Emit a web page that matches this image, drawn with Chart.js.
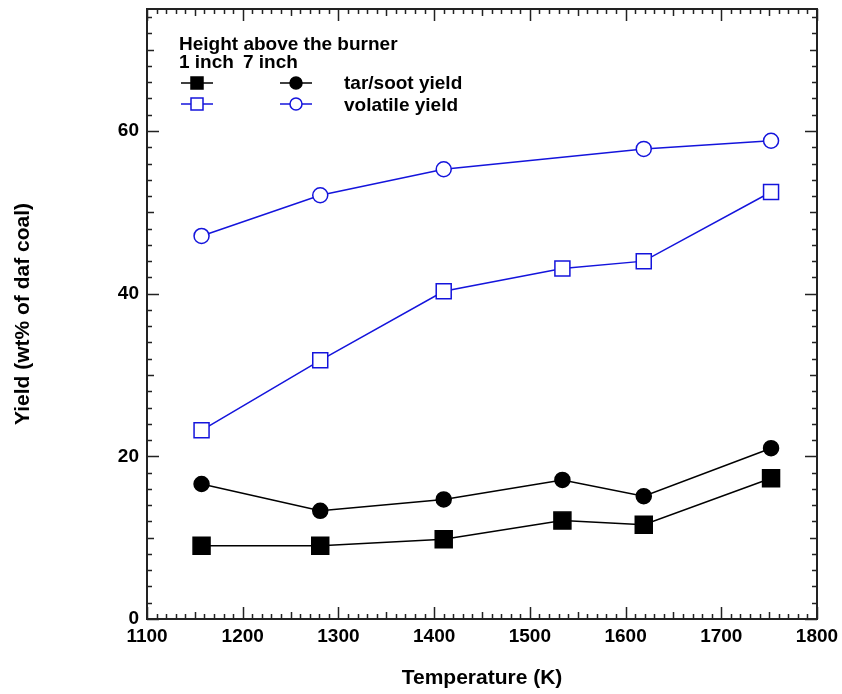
<!DOCTYPE html>
<html>
<head>
<meta charset="utf-8">
<title>Yield vs temperature</title>
<script src="https://cdn.jsdelivr.net/npm/chart.js@4.4.1/dist/chart.umd.min.js"></script>
<style>
    html, body { margin: 0; padding: 0; background: #fff; }
    #wrap { width: 842px; height: 694px; }
</style>
</head>
<body>
<div id="wrap"><canvas id="grafico"></canvas></div>
<script>
'use strict';

/* datos */
const temperaturas = [1157, 1281, 1410, 1534, 1619, 1752];
const tarSoot1in   = [9.0, 9.0, 9.8, 12.1, 11.6, 17.3];
const tarSoot7in   = [16.6, 13.3, 14.7, 17.1, 15.1, 21.0];
const volatil1in   = [23.2, 31.8, 40.3, 43.1, 44.0, 52.5];
const volatil7in   = [47.1, 52.1, 55.3, null, 57.8, 58.8];

const xTicks = [1100, 1200, 1300, 1400, 1500, 1600, 1700, 1800];
const yTicks = [0, 20, 40, 60];

const AZUL = '#1414dc';
const FUENTE = "'Liberation Sans', Arial, sans-serif";

const puntos = serie => temperaturas.map((t, i) => ({ x: t, y: serie[i] }));

/* ticks hacia dentro + marco + leyenda */
const marcoPlugin = {
    id: 'marco',
    afterDraw(chart) {
        const { ctx, chartArea: a, scales: { x, y } } = chart;
        ctx.save();
        ctx.strokeStyle = '#222';
        ctx.lineWidth = 1.5;

        ctx.beginPath();
        for (let v = x.min; v <= x.max + 0.01; v += 10) {
            const px = Math.round(x.getPixelForValue(v)) + 0.5;
            const len = v % 100 === 0 ? 12 : (v % 50 === 0 ? 7 : 5);
            ctx.moveTo(px, a.bottom); ctx.lineTo(px, a.bottom - len);
            ctx.moveTo(px, a.top);    ctx.lineTo(px, a.top + len);
        }
        for (let v = y.min; v <= y.max + 0.01; v += 2) {
            const py = Math.round(y.getPixelForValue(v)) + 0.5;
            const len = v % 20 === 0 ? 12 : (v % 10 === 0 ? 7 : 5);
            ctx.moveTo(a.left, py);  ctx.lineTo(a.left + len, py);
            ctx.moveTo(a.right, py); ctx.lineTo(a.right - len, py);
        }
        ctx.stroke();

        ctx.lineWidth = 2;
        ctx.strokeRect(a.left, a.top, a.right - a.left, a.bottom - a.top);

        // leyenda
        ctx.fillStyle = '#000';
        ctx.font = 'bold 19px ' + FUENTE;
        ctx.textBaseline = 'alphabetic';
        ctx.textAlign = 'left';
        ctx.fillText('Height above the burner', 179, 50);
        ctx.fillText('1 inch', 179, 68);
        ctx.fillText('7 inch', 243, 68);
        ctx.fillText('tar/soot yield', 344, 89);
        ctx.fillText('volatile yield', 344, 111);

        const simbolo = (cx, cy, forma, color, relleno) => {
            ctx.strokeStyle = color;
            ctx.lineWidth = 1.5;
            ctx.beginPath();
            ctx.moveTo(cx - 16, cy); ctx.lineTo(cx + 16, cy);
            ctx.stroke();
            ctx.beginPath();
            if (forma === 'rect') ctx.rect(cx - 6, cy - 6, 12, 12);
            else ctx.arc(cx, cy, 6, 0, Math.PI * 2);
            ctx.fillStyle = relleno;
            ctx.fill();
            ctx.stroke();
        };
        simbolo(197, 83, 'rect', '#000', '#000');
        simbolo(296, 83, 'circle', '#000', '#000');
        simbolo(197, 104, 'rect', AZUL, '#fff');
        simbolo(296, 104, 'circle', AZUL, '#fff');
        ctx.restore();
    }
};

function serie(label, datos, forma, color, relleno, radio) {
    return {
        label,
        data: puntos(datos),
        borderColor: color,
        borderWidth: 1.5,
        pointStyle: forma,
        pointRadius: radio,
        pointHoverRadius: radio,
        pointBackgroundColor: relleno,
        pointBorderColor: color,
        pointBorderWidth: 1.5,
        spanGaps: true,
        tension: 0
    };
}

new Chart(document.getElementById('grafico'), {
    type: 'line',
    data: {
        datasets: [
            serie('tar/soot 1 inch', tarSoot1in, 'rect', '#000', '#000', 12),
            serie('tar/soot 7 inch', tarSoot7in, 'circle', '#000', '#000', 7.5),
            serie('volatile 1 inch', volatil1in, 'rect', AZUL, '#fff', 10.6),
            serie('volatile 7 inch', volatil7in, 'circle', AZUL, '#fff', 7.5)
        ]
    },
    options: {
        responsive: true,
        maintainAspectRatio: false,
        animation: false,
        layout: { autoPadding: false, padding: { top: 9, right: 25, left: 0, bottom: 0 } },
        plugins: {
            legend: { display: false },
            tooltip: { enabled: false }
        },
        scales: {
            x: {
                type: 'linear',
                min: 1100,
                max: 1800,
                afterBuildTicks: s => { s.ticks = xTicks.map(v => ({ value: v })); },
                afterFit: s => { s.height = 75; s.paddingLeft = 0; s.paddingRight = 0; },
                grid: { display: false, drawTicks: false },
                border: { display: false },
                ticks: {
                    padding: 6,
                    color: '#000',
                    maxRotation: 0,
                    callback: v => String(v),
                    font: { family: FUENTE, size: 19, weight: 'bold' }
                },
                title: {
                    display: true,
                    text: 'Temperature (K)',
                    color: '#000',
                    padding: { top: 10, bottom: 3 },
                    font: { family: FUENTE, size: 21, weight: 'bold' }
                }
            },
            y: {
                min: 0,
                max: 75,
                afterBuildTicks: s => { s.ticks = yTicks.map(v => ({ value: v })); },
                afterFit: s => { s.width = 147; s.paddingTop = 0; s.paddingBottom = 0; },
                grid: { display: false, drawTicks: false },
                border: { display: false },
                ticks: {
                    padding: 8,
                    color: '#000',
                    callback: v => String(v),
                    font: { family: FUENTE, size: 19, weight: 'bold' }
                },
                title: {
                    display: true,
                    text: 'Yield (wt% of daf coal)',
                    color: '#000',
                    padding: { top: 11, bottom: 4 },
                    font: { family: FUENTE, size: 21, weight: 'bold' }
                }
            }
        }
    },
    plugins: [marcoPlugin]
});
</script>
</body>
</html>
